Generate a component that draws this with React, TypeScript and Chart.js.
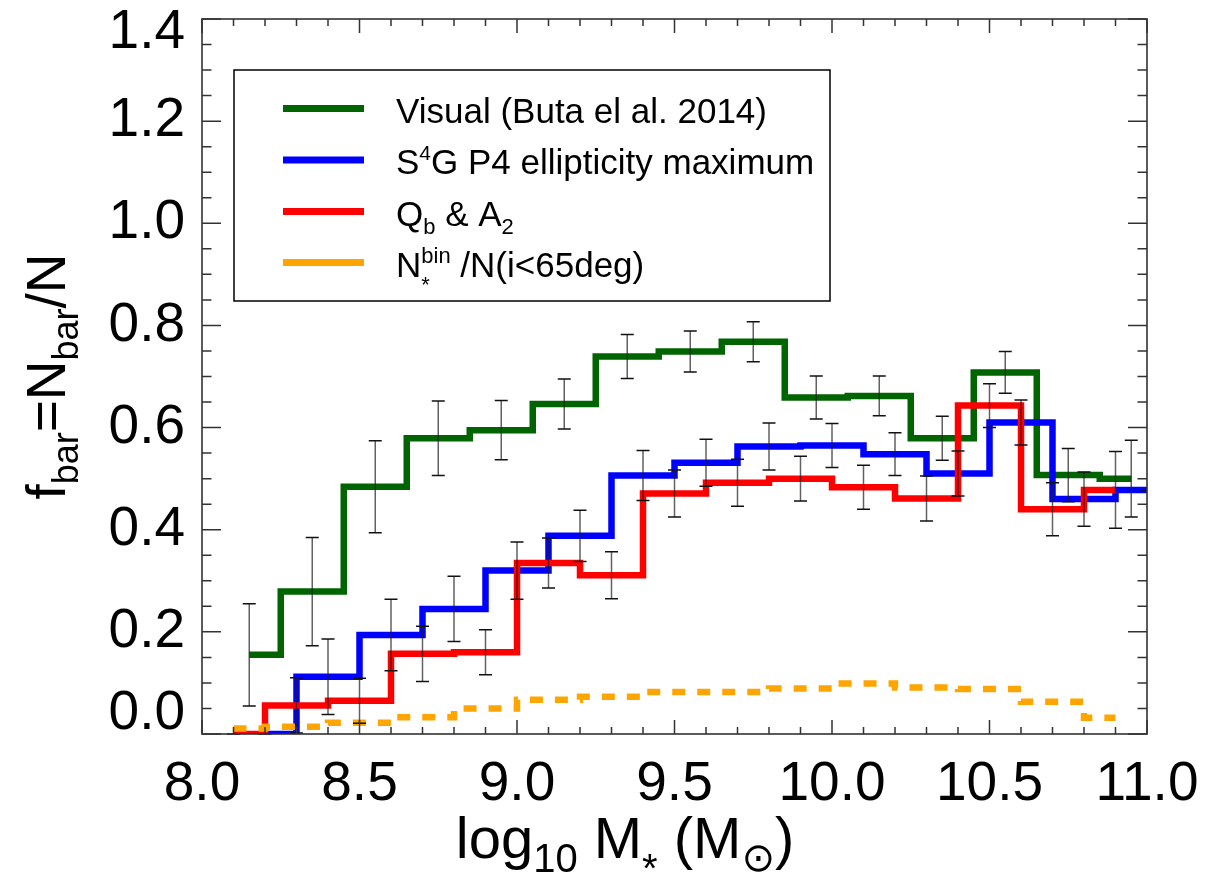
import { useEffect, useRef } from 'react';
import { Chart, registerables } from 'chart.js';

Chart.register(...registerables);

const FONT = "'Liberation Sans', 'DejaVu Sans', Arial, sans-serif";

// Visual (Buta et al. 2014)
const greenX = [8.15, 8.35, 8.55, 8.75, 8.95, 9.15, 9.35, 9.55, 9.75, 9.95, 10.15, 10.35, 10.55, 10.75, 10.95];
const greenY = [0.155, 0.279, 0.484, 0.579, 0.595, 0.646, 0.739, 0.749, 0.768, 0.659, 0.662, 0.579, 0.708, 0.507, 0.5];
const greenErr = [0.1, 0.106, 0.09, 0.073, 0.058, 0.049, 0.043, 0.04, 0.039, 0.042, 0.039, 0.043, 0.041, 0.052, 0.075];

// S4G P4 ellipticity maximum
const blueX = [8.2, 8.4, 8.6, 8.8, 9.0, 9.2, 9.4, 9.6, 9.8, 10.0, 10.2, 10.4, 10.6, 10.8, 11.0];
const blueY = [0.0, 0.112, 0.194, 0.245, 0.32, 0.388, 0.506, 0.531, 0.563, 0.565, 0.548, 0.51, 0.61, 0.46, 0.478];
const blueErr = [0.0, 0.074, 0.07, 0.064, 0.056, 0.05, 0.049, 0.046, 0.046, 0.043, 0.042, 0.044, 0.044, 0.053, 0.0];

// Qb & A2
const redX = [8.1, 8.3, 8.5, 8.7, 8.9, 9.1, 9.3, 9.5, 9.7, 9.9, 10.1, 10.3, 10.5, 10.7, 10.9];
const redY = [0.0, 0.056, 0.065, 0.157, 0.16, 0.335, 0.311, 0.471, 0.492, 0.5, 0.483, 0.461, 0.643, 0.44, 0.478];
const redErr = [0.0, 0.054, 0.044, 0.054, 0.044, 0.049, 0.046, 0.046, 0.046, 0.044, 0.043, 0.044, 0.043, 0.052, 0.075];

// N*bin / N(i<65deg)
const orangeX = [8.1, 8.3, 8.5, 8.7, 8.9, 9.1, 9.3, 9.5, 9.7, 9.9, 10.1, 10.3, 10.5, 10.7, 10.9];
const orangeY = [0.011, 0.014, 0.022, 0.033, 0.05, 0.067, 0.073, 0.082, 0.082, 0.089, 0.099, 0.091, 0.088, 0.063, 0.032];

const seriesColors = ['#006400', '#0000ff', '#ff0000', '#ffa500'];
const seriesNames = ['Visual (Buta el al. 2014)', 'S4G P4 ellipticity maximum', 'Qb & A2', 'N*bin /N(i<65deg)'];

const yTickValues = [0, 0.2, 0.4, 0.6, 0.8, 1.0, 1.2, 1.4];
const yTickLabels = ['0.0', '0.2', '0.4', '0.6', '0.8', '1.0', '1.2', '1.4'];

type Part = { t: string; size: number; dy: number; over?: { t: string; dy: number } };

function drawParts(ctx: CanvasRenderingContext2D, parts: Part[], x: number, y: number, align: 'left' | 'center') {
  const widths = parts.map((p) => {
    ctx.font = `${p.size}px ${FONT}`;
    let w = ctx.measureText(p.t).width;
    if (p.over) w = Math.max(w, ctx.measureText(p.over.t).width);
    return w;
  });
  const total = widths.reduce((a, b) => a + b, 0);
  let cx = align === 'center' ? x - total / 2 : x;
  ctx.textAlign = 'left';
  ctx.textBaseline = 'alphabetic';
  parts.forEach((p, i) => {
    ctx.font = `${p.size}px ${FONT}`;
    ctx.fillText(p.t, cx, y + p.dy);
    if (p.over) ctx.fillText(p.over.t, cx, y + p.over.dy);
    cx += widths[i];
  });
}

const legendParts: Part[][] = [
  [{ t: 'Visual (Buta el al. 2014)', size: 35, dy: 0 }],
  [
    { t: 'S', size: 35, dy: 0 },
    { t: '4', size: 21, dy: -14 },
    { t: 'G P4 ellipticity maximum', size: 35, dy: 0 },
  ],
  [
    { t: 'Q', size: 35, dy: 0 },
    { t: 'b', size: 22, dy: 8 },
    { t: ' & A', size: 35, dy: 0 },
    { t: '2', size: 22, dy: 8 },
  ],
  [
    { t: 'N', size: 35, dy: 0 },
    { t: '*', size: 22, dy: 15, over: { t: 'bin', dy: -14 } },
    { t: ' /N(i<65deg)', size: 35, dy: 0 },
  ],
];

const decor = {
  id: 'decor',
  afterDatasetsDraw(chart: any) {
    const { ctx, chartArea: a, scales } = chart;
    const xs = scales.x;
    const ys = scales.y;
    ctx.save();
    ctx.beginPath();
    ctx.rect(a.left, a.top - 2, a.right - a.left, a.bottom - a.top + 4);
    ctx.clip();
    const sets: [number[], number[], number[]][] = [
      [greenX, greenY, greenErr],
      [blueX, blueY, blueErr],
      [redX, redY, redErr],
    ];
    sets.forEach(([sx, sy, se]) => {
      sx.forEach((xv, i) => {
        const px = xs.getPixelForValue(xv);
        const y1 = ys.getPixelForValue(sy[i] + se[i]);
        const y2 = ys.getPixelForValue(sy[i] - se[i]);
        ctx.lineWidth = 1.5;
        ctx.strokeStyle = 'rgba(30,30,30,0.7)';
        ctx.beginPath();
        ctx.moveTo(px, y1);
        ctx.lineTo(px, y2);
        ctx.stroke();
        ctx.strokeStyle = '#111';
        ctx.beginPath();
        ctx.moveTo(px - 6.5, y1);
        ctx.lineTo(px + 6.5, y1);
        ctx.moveTo(px - 6.5, y2);
        ctx.lineTo(px + 6.5, y2);
        ctx.stroke();
      });
    });
    ctx.restore();
  },
  afterDraw(chart: any) {
    const { ctx, chartArea: a, scales } = chart;
    const xs = scales.x;
    const ys = scales.y;
    ctx.save();
    // frame
    ctx.strokeStyle = '#333';
    ctx.lineWidth = 1.6;
    ctx.strokeRect(a.left, a.top, a.right - a.left, a.bottom - a.top);
    // x ticks (inward, bottom and top)
    ctx.lineWidth = 1.5;
    ctx.beginPath();
    for (let i = 0; i <= 30; i++) {
      const v = 8 + i * 0.1;
      const px = xs.getPixelForValue(v);
      const len = i % 5 === 0 ? 14 : 7;
      ctx.moveTo(px, a.bottom);
      ctx.lineTo(px, a.bottom - len);
      ctx.moveTo(px, a.top);
      ctx.lineTo(px, a.top + len);
    }
    for (let i = 0; i <= 28; i++) {
      const v = i * 0.05;
      const py = ys.getPixelForValue(v);
      const len = i % 4 === 0 ? 19 : 9.5;
      ctx.moveTo(a.left, py);
      ctx.lineTo(a.left + len, py);
      ctx.moveTo(a.right, py);
      ctx.lineTo(a.right - len, py);
    }
    ctx.stroke();

    // y tick labels
    ctx.fillStyle = '#000';
    ctx.font = `55px ${FONT}`;
    ctx.textAlign = 'right';
    ctx.textBaseline = 'middle';
    yTickValues.forEach((v, i) => {
      let py = ys.getPixelForValue(v);
      if (i === 0) py -= 20;
      if (i === yTickValues.length - 1) py += 14;
      ctx.fillText(yTickLabels[i], a.left - 17, py);
    });

    // axis titles
    drawParts(
      ctx,
      [
        { t: 'log', size: 58, dy: 0 },
        { t: '10', size: 40, dy: 14 },
        { t: ' M', size: 58, dy: 0 },
        { t: '*', size: 40, dy: 24 },
        { t: ' (M', size: 58, dy: 0 },
        { t: '\u2299', size: 40, dy: 13 },
        { t: ')', size: 58, dy: 0 },
      ],
      625,
      858,
      'center'
    );
    ctx.save();
    ctx.translate(65, (a.top + a.bottom) / 2);
    ctx.rotate(-Math.PI / 2);
    drawParts(
      ctx,
      [
        { t: 'f', size: 55, dy: 0 },
        { t: 'bar', size: 36, dy: 13 },
        { t: '=N', size: 55, dy: 0 },
        { t: 'bar', size: 36, dy: 13 },
        { t: '/N', size: 55, dy: 0 },
      ],
      0,
      0,
      'center'
    );
    ctx.restore();

    // legend
    const bx = 234, by = 70, bw = 596, bh = 231;
    ctx.fillStyle = '#fff';
    ctx.fillRect(bx, by, bw, bh);
    ctx.strokeStyle = '#000';
    ctx.lineWidth = 1.5;
    ctx.strokeRect(bx, by, bw, bh);
    const rowY = [108.5, 160, 211.5, 262.5];
    rowY.forEach((ry, i) => {
      ctx.strokeStyle = seriesColors[i];
      ctx.lineWidth = 7;
      ctx.beginPath();
      ctx.moveTo(283, ry);
      ctx.lineTo(364, ry);
      ctx.stroke();
      ctx.fillStyle = '#000';
      drawParts(ctx, legendParts[i], 396, ry + 14, 'left');
    });
    ctx.restore();
  },
};

export default function App() {
  const ref = useRef<HTMLCanvasElement>(null);
  useEffect(() => {
    document.body.style.margin = '0';
    document.body.style.overflow = 'hidden';
    const canvas = ref.current!;
    const toXY = (xs: number[], ys: number[]) => xs.map((v, i) => ({ x: v, y: ys[i] }));
    const base = { stepped: 'middle' as const, pointRadius: 0, borderWidth: 6.5, fill: false, borderJoinStyle: 'miter' as const };
    const chart = new Chart(canvas, {
      type: 'line',
      data: {
        datasets: [
          { ...base, label: seriesNames[0], data: toXY(greenX, greenY), borderColor: seriesColors[0], order: 4 },
          { ...base, label: seriesNames[1], data: toXY(blueX, blueY), borderColor: seriesColors[1], order: 3 },
          { ...base, label: seriesNames[2], data: toXY(redX, redY), borderColor: seriesColors[2], order: 2 },
          { ...base, label: seriesNames[3], data: toXY(orangeX, orangeY), borderColor: seriesColors[3], borderDash: [13, 12], order: 1 },
        ],
      },
      options: {
        animation: false,
        responsive: false,
        devicePixelRatio: 1,
        events: [],
        layout: { padding: { left: 0, right: 84, top: 19, bottom: 0 } },
        plugins: { legend: { display: false }, tooltip: { enabled: false } },
        scales: {
          x: {
            type: 'linear',
            min: 8,
            max: 11,
            position: 'bottom',
            grid: { display: false, drawTicks: false },
            border: { display: false },
            ticks: {
              stepSize: 0.5,
              autoSkip: false,
              maxRotation: 0,
              minRotation: 0,
              padding: 18,
              color: '#000',
              font: { family: FONT, size: 55, lineHeight: 1.2 },
              callback: (v: any) => Number(v).toFixed(1),
            },
            afterFit: (s: any) => {
              s.height = 143;
            },
          },
          y: {
            type: 'linear',
            min: 0,
            max: 1.4,
            position: 'left',
            grid: { display: false, drawTicks: false },
            border: { display: false },
            ticks: { display: false, stepSize: 0.2 },
            afterFit: (s: any) => {
              s.width = 202;
            },
          },
        },
      },
      plugins: [decor],
    });
    return () => chart.destroy();
  }, []);
  return (
    <div style={{ width: 1231, height: 877, background: '#fff' }}>
      <canvas ref={ref} width={1231} height={877} style={{ display: 'block' }} />
    </div>
  );
}
